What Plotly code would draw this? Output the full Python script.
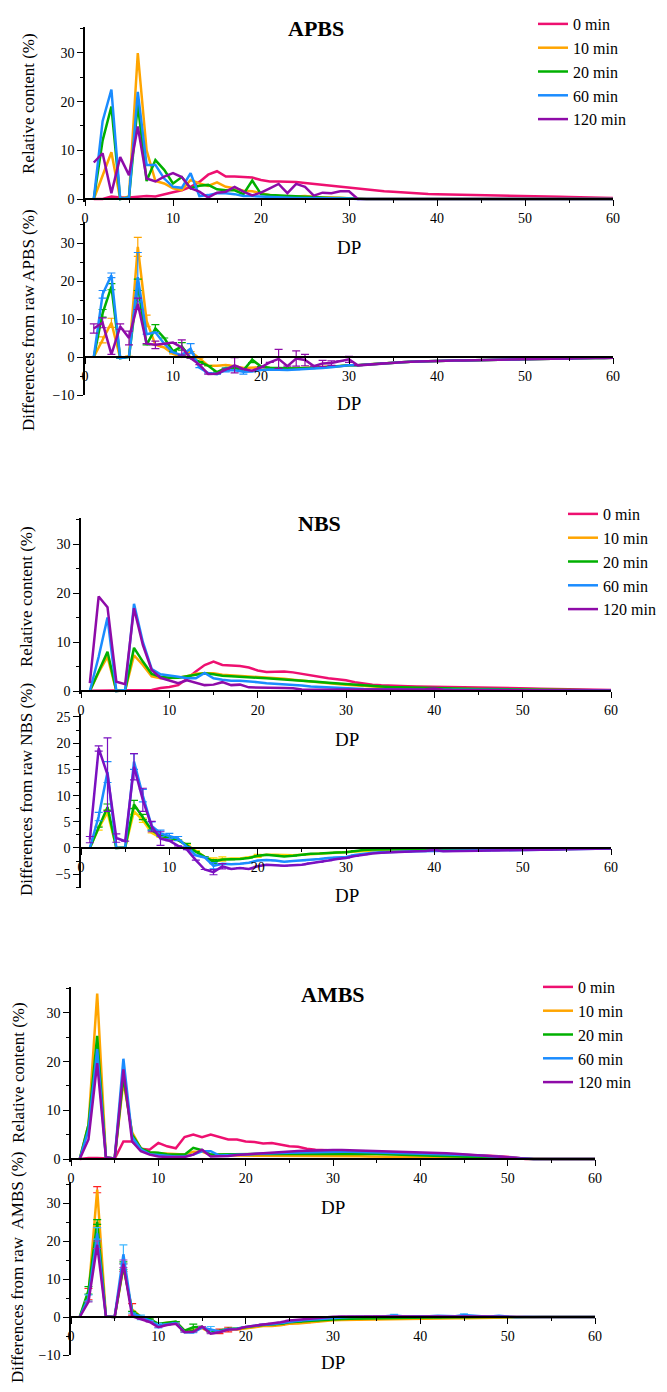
import plotly.graph_objects as go

W, H = 667, 1392
PAGE_OFFSET = 8  # the page body margin shifts the figure by this many pixels
FONT = "Liberation Serif, Times New Roman, Tinos, DejaVu Serif, serif"

dp = list(range(1, 61))
series_names = ["0 min", "10 min", "20 min", "60 min", "120 min"]
colors = ["#EE1070", "#FFA500", "#00B000", "#1A8CFF", "#8E0BA8"]
nbs_diff_colors = ["#FFD000", "#00B000", "#1A8CFF", "#7A10C0"]
ambs_err_colors = ["#FF2020", "#00B000", "#40B8FF", "#A040C0"]

# ---------------- APBS relative content ----------------
apbs_0 = [0, 0, 0.5, 0.3, 0.3, 0.5, 0.6, 0.5, 1.0, 1.4,
          1.8, 2.5, 3.5, 5.0, 5.7, 4.6, 4.6, 4.5, 4.4, 3.9,
          3.6, 3.6, 3.6, 3.5, 3.3, 3.1, 2.95, 2.8, 2.6, 2.4,
          2.2, 2.0, 1.8, 1.6, 1.5, 1.35, 1.25, 1.15, 1.05, 1.0,
          0.95, 0.92, 0.9, 0.87, 0.85, 0.8, 0.77, 0.73, 0.7, 0.65,
          0.6, 0.55, 0.5, 0.46, 0.42, 0.38, 0.33, 0.28, 0.24, 0.2]
apbs_10 = [0, 5.0, 9.6, 0, 0.5, 30.0, 10.0, 3.7, 3.2, 2.2,
           1.8, 3.9, 3.2, 2.7, 3.4, 2.5, 2.2, 1.7, 1.6, 1.2,
           0.8, 0.6, 0.5, 0.5, 0.6, 0.4, 0.3, 0.3, 0.2, 0.2,
           0, 0, 0, 0, 0, 0, 0, 0, 0, 0,
           0, 0, 0, 0, 0, 0, 0, 0, 0, 0,
           0, 0, 0, 0, 0, 0, 0, 0, 0, 0]
apbs_20 = [0, 12.0, 19.0, 0, 0.3, 19.5, 3.7, 8.0, 6.0, 3.2,
           4.5, 2.2, 2.7, 2.9, 2.0, 1.8, 1.8, 1.0, 3.8, 1.0,
           0.8, 0.7, 0.6, 0.5, 0.4, 0.3, 0.3, 0.2, 0.2, 0.1,
           0, 0, 0, 0, 0, 0, 0, 0, 0, 0,
           0, 0, 0, 0, 0, 0, 0, 0, 0, 0,
           0, 0, 0, 0, 0, 0, 0, 0, 0, 0]
apbs_60 = [0, 16.0, 22.5, 0, 0.3, 22.0, 7.0, 7.0, 4.2, 2.5,
           2.3, 5.3, 0.6, 0.8, 1.2, 1.2, 1.0, 0.6, 0.6, 0.5,
           0.4, 0.3, 0.3, 0.2, 0.2, 0.2, 0.1, 0.1, 0.1, 0.1,
           0, 0, 0, 0, 0, 0, 0, 0, 0, 0,
           0, 0, 0, 0, 0, 0, 0, 0, 0, 0,
           0, 0, 0, 0, 0, 0, 0, 0, 0, 0]
apbs_120 = [7.5, 9.4, 1.2, 8.6, 4.9, 14.9, 4.2, 3.6, 4.6, 5.3,
            4.5, 2.2, 1.5, 0.3, 1.3, 1.5, 2.5, 1.5, 0.75, 1.3,
            2.2, 3.1, 1.2, 3.1, 2.5, 0.7, 1.3, 1.2, 1.6, 1.6,
            0, 0, 0, 0, 0, 0, 0, 0, 0, 0,
            0, 0, 0, 0, 0, 0, 0, 0, 0, 0,
            0, 0, 0, 0, 0, 0, 0, 0, 0, 0]

# ---------------- APBS differences ----------------
apbs_tail = [-2.2, -2.0, -1.8, -1.6, -1.5, -1.35, -1.25, -1.15, -1.05, -1.0,
             -0.95, -0.92, -0.9, -0.87, -0.85, -0.8, -0.77, -0.73, -0.7, -0.65,
             -0.6, -0.55, -0.5, -0.46, -0.42, -0.38, -0.33, -0.28, -0.24, -0.2]
apbs_d10 = [0, 4.5, 9.0, -0.3, 0.2, 29.0, 9.5, 3.2, 2.5, 0.8,
            0.0, 1.4, -0.3, -2.3, -2.3, -2.1, -2.4, -2.9, -2.8, -2.7,
            -2.9, -3.1, -3.1, -3.0, -2.8, -2.8, -2.7, -2.6, -2.4, -2.2] + apbs_tail
apbs_d20 = [0, 11.5, 18.5, -0.3, 0, 19.0, 3.2, 7.5, 5.0, 1.5,
            2.8, -0.3, -1.2, -2.3, -4.0, -2.9, -2.9, -3.5, -0.7, -2.5,
            -2.8, -2.9, -3.0, -3.0, -2.9, -2.9, -2.7, -2.6, -2.4, -2.2] + apbs_tail
apbs_d60 = [0, 16.5, 21.5, -0.3, 0, 21.0, 6.0, 6.5, 3.5, 1.2,
            0.5, 2.2, -2.8, -4.2, -4.5, -3.4, -3.5, -3.9, -3.8, -3.4,
            -3.3, -3.4, -3.4, -3.3, -3.2, -3.0, -2.9, -2.7, -2.5, -2.2] + apbs_tail
apbs_d120 = [7.5, 9.0, 0.7, 8.0, 5.0, 14.0, 3.5, 3.2, 3.5, 3.8,
             2.5, -0.3, -2.0, -4.5, -4.4, -3.2, -2.2, -3.2, -3.6, -2.7,
             -1.4, -0.5, -2.4, -0.4, -0.8, -2.4, -1.7, -1.6, -1.0, -0.6] + apbs_tail
apbs_e10 = {2: 0.8, 3: 1.2, 6: 2.5, 7: 1.5}
apbs_e20 = {2: 1.0, 3: 0.8, 6: 1.5, 8: 1.0, 11: 1.0, 19: 0.8}
apbs_e60 = {2: 1.0, 3: 0.6, 6: 6.5, 12: 1.3, 16: 0.5, 18: 0.6}
apbs_e120 = {1: 1.2, 2: 1.3, 4: 0.7, 5: 1.8, 6: 1.5, 8: 1.0, 11: 2.0,
             17: 2.0, 22: 2.5, 24: 2.0, 25: 1.5, 27: 0.8, 28: 0.6, 30: 0.8}

# ---------------- NBS relative content ----------------
nbs_0 = [0.05, 0.05, 0.05, 0.05, 0.1, 0.1, 0.1, 0.2, 0.6, 0.8,
         1.2, 2.5, 4.0, 5.3, 6.0, 5.3, 5.2, 5.1, 4.8, 4.2,
         3.9, 3.9, 4.0, 3.8, 3.5, 3.1, 2.9, 2.6, 2.4, 2.2,
         1.8, 1.5, 1.3, 1.15, 1.05, 1.0, 0.95, 0.92, 0.9, 0.88,
         0.85, 0.82, 0.8, 0.77, 0.74, 0.7, 0.67, 0.63, 0.6, 0.56,
         0.52, 0.48, 0.44, 0.4, 0.36, 0.32, 0.28, 0.25, 0.22, 0.2]
nbs_10 = [0, 3.8, 7.0, 0, 0.1, 7.3, 5.3, 3.0, 2.6, 2.6,
          2.7, 3.0, 3.5, 3.6, 3.6, 3.3, 3.2, 3.1, 3.0, 2.8,
          2.7, 2.6, 2.5, 2.3, 2.1, 1.9, 1.75, 1.6, 1.45, 1.3,
          1.15, 1.0, 0.9, 0.8, 0.72, 0.65, 0.6, 0.55, 0.5, 0.48,
          0.45, 0.42, 0.4, 0.38, 0.36, 0.34, 0.32, 0.3, 0.28, 0.26,
          0.24, 0.22, 0.2, 0.19, 0.18, 0.17, 0.16, 0.15, 0.14, 0.13]
nbs_20 = [0, 4.0, 8.0, 0, 0.2, 8.8, 6.0, 3.5, 2.9, 2.7,
          2.7, 3.0, 3.3, 3.6, 3.4, 3.1, 3.0, 2.95, 2.9, 2.7,
          2.6, 2.5, 2.4, 2.3, 2.2, 2.0, 1.85, 1.7, 1.55, 1.4,
          1.25, 1.1, 1.0, 0.9, 0.8, 0.75, 0.7, 0.65, 0.6, 0.57,
          0.54, 0.5, 0.47, 0.44, 0.42, 0.4, 0.37, 0.35, 0.33, 0.31,
          0.29, 0.27, 0.25, 0.23, 0.21, 0.2, 0.18, 0.17, 0.16, 0.15]
nbs_60 = [0, 7.0, 15.0, 0, 0.2, 17.8, 10.0, 4.5, 3.4, 3.2,
          2.9, 2.6, 2.6, 3.7, 2.6, 2.3, 2.1, 2.1, 2.0, 1.8,
          1.6, 1.5, 1.4, 1.3, 1.1, 0.9, 0.8, 0.7, 0.6, 0.5,
          0.45, 0.4, 0.38, 0.35, 0.33, 0.31, 0.3, 0.29, 0.28, 0.27,
          0.26, 0.25, 0.24, 0.23, 0.22, 0.21, 0.2, 0.19, 0.18, 0.17,
          0.16, 0.15, 0.14, 0.13, 0.12, 0.11, 0.1, 0.1, 0.1, 0.1]
nbs_120 = [1.6, 19.3, 17.1, 1.9, 1.4, 16.9, 9.4, 4.3, 2.7, 2.2,
           1.6, 2.2, 1.7, 1.2, 1.3, 1.8, 1.2, 1.3, 0.75, 0.75,
           0.7, 0.65, 0.6, 0.55, 0.3, 0.25, 0.25, 0.25, 0.25, 0.25,
           0.25, 0.25, 0.25, 0.25, 0.25, 0.25, 0.25, 0.3, 0.35, 0.5,
           0.25, 0.2, 0.2, 0.2, 0.2, 0.2, 0.18, 0.16, 0.15, 0.14,
           0.13, 0.12, 0.12, 0.11, 0.11, 0.1, 0.1, 0.1, 0.1, 0.1]

# ---------------- NBS differences ----------------
nbs_d10 = [0, 3.8, 6.8, 0, 0.1, 7.0, 5.3, 2.9, 2.0, 1.8,
           1.5, 0.6, -0.5, -1.7, -2.3, -2.1, -2.0, -2.0, -1.8, -1.5,
           -1.3, -1.3, -1.4, -1.4, -1.3, -1.2, -1.1, -1.0, -0.9, -0.8,
           -0.6, -0.5, -0.45, -0.4, -0.38, -0.36, -0.35, -0.36, -0.38, -0.4,
           -0.4, -0.4, -0.4, -0.39, -0.38, -0.36, -0.35, -0.33, -0.32, -0.3,
           -0.28, -0.26, -0.24, -0.21, -0.18, -0.15, -0.12, -0.1, -0.08, -0.07]
nbs_d20 = [0, 4.0, 7.8, 0, 0.1, 8.3, 5.9, 3.4, 2.3, 1.9,
           1.5, 0.5, -0.7, -1.7, -2.6, -2.2, -2.2, -2.1, -1.9, -1.5,
           -1.3, -1.4, -1.6, -1.5, -1.3, -1.1, -1.05, -0.9, -0.85, -0.8,
           -0.55, -0.4, -0.3, -0.25, -0.25, -0.25, -0.25, -0.27, -0.3, -0.31,
           -0.31, -0.32, -0.33, -0.33, -0.32, -0.3, -0.3, -0.28, -0.27, -0.25,
           -0.23, -0.21, -0.19, -0.17, -0.15, -0.12, -0.1, -0.08, -0.06, -0.05]
nbs_d60 = [0, 6.0, 14.5, 0, 0.1, 16.5, 10.0, 4.2, 2.8, 2.3,
           1.8, 0.2, -1.4, -1.8, -3.4, -3.0, -3.1, -3.0, -2.8, -2.4,
           -2.3, -2.4, -2.6, -2.5, -2.4, -2.2, -2.1, -1.9, -1.8, -1.7,
           -1.35, -1.1, -0.92, -0.8, -0.72, -0.69, -0.65, -0.63, -0.62, -0.61,
           -0.59, -0.57, -0.56, -0.54, -0.52, -0.49, -0.47, -0.44, -0.42, -0.39,
           -0.36, -0.33, -0.3, -0.27, -0.24, -0.21, -0.18, -0.15, -0.12, -0.1]
nbs_d120 = [1.6, 19.0, 14.0, 1.9, 1.3, 15.5, 9.2, 4.1, 1.8, 1.4,
            0.4, -0.3, -2.3, -4.1, -4.6, -3.5, -4.0, -3.8, -4.0, -3.5,
            -3.2, -3.3, -3.4, -3.3, -3.2, -2.9, -2.7, -2.4, -2.1, -1.9,
            -1.55, -1.25, -1.05, -0.9, -0.8, -0.75, -0.7, -0.62, -0.55, -0.4,
            -0.6, -0.62, -0.6, -0.57, -0.54, -0.5, -0.49, -0.47, -0.45, -0.42,
            -0.39, -0.36, -0.32, -0.29, -0.25, -0.22, -0.18, -0.15, -0.12, -0.1]
nbs_e10 = {2: 0.4, 3: 0.5, 6: 0.6, 7: 0.4, 15: 0.4, 16: 0.4, 20: 0.3}
nbs_e20 = {3: 0.6, 6: 0.8, 7: 0.5, 12: 0.4, 15: 0.4}
nbs_e60 = {2: 0.8, 3: 2.0, 6: 1.5, 7: 1.2, 8: 0.8, 9: 0.6, 10: 0.5, 11: 0.4, 15: 0.6}
nbs_e120 = {1: 0.6, 2: 0.5, 3: 7.0, 4: 0.8, 6: 2.5, 7: 2.2, 8: 1.0, 9: 1.3, 15: 0.5, 16: 0.5}

# ---------------- AMBS relative content ----------------
ambs_0 = [0, 0.2, 0.2, 0.1, 0.05, 3.6, 3.6, 2.1, 1.9, 3.3,
          2.6, 2.2, 4.5, 5.0, 4.5, 5.0, 4.5, 4.0, 4.0, 3.6,
          3.5, 3.2, 3.3, 2.9, 2.6, 2.5, 2.1, 1.9, 1.8, 1.7,
          1.65, 1.6, 1.55, 1.5, 1.45, 1.4, 1.35, 1.3, 1.25, 1.2,
          1.15, 1.1, 1.05, 1.0, 0.95, 0.85, 0.75, 0.65, 0.55, 0.45,
          0.3, 0, 0, 0, 0, 0, 0, 0, 0, 0]
ambs_10 = [0, 7.0, 34.0, 0.3, 0.1, 16.0, 5.5, 2.2, 1.3, 1.2,
           1.0, 0.9, 0.9, 1.5, 1.5, 0.8, 0.7, 0.7, 0.7, 0.7,
           0.7, 0.7, 0.7, 0.7, 0.7, 0.65, 0.65, 0.6, 0.6, 0.6,
           0.6, 0.55, 0.55, 0.5, 0.5, 0.5, 0.45, 0.4, 0.4, 0.35,
           0.35, 0.3, 0.3, 0.3, 0.25, 0.25, 0.2, 0.2, 0.15, 0.1,
           0.05, 0, 0, 0, 0, 0, 0, 0, 0, 0]
ambs_20 = [0, 7.0, 25.3, 0.3, 0.1, 17.0, 5.0, 2.2, 1.4, 1.3,
           1.0, 0.9, 0.9, 2.3, 1.8, 0.9, 0.9, 0.9, 1.0, 1.0,
           1.0, 1.05, 1.1, 1.1, 1.15, 1.15, 1.2, 1.2, 1.2, 1.2,
           1.2, 1.15, 1.1, 1.1, 1.05, 1.0, 0.95, 0.9, 0.85, 0.8,
           0.75, 0.7, 0.65, 0.6, 0.55, 0.5, 0.45, 0.4, 0.3, 0.2,
           0.1, 0, 0, 0, 0, 0, 0, 0, 0, 0]
ambs_60 = [0, 6.0, 22.6, 0.3, 0.1, 20.6, 4.5, 2.0, 1.0, 0.8,
           0.6, 0.5, 0.5, 0.9, 1.6, 1.6, 0.7, 0.8, 0.9, 1.0,
           1.05, 1.1, 1.2, 1.25, 1.3, 1.35, 1.4, 1.45, 1.5, 1.5,
           1.5, 1.5, 1.45, 1.45, 1.4, 1.4, 1.35, 1.3, 1.25, 1.2,
           1.15, 1.1, 1.0, 0.95, 0.85, 0.75, 0.65, 0.55, 0.45, 0.3,
           0.15, 0, 0, 0, 0, 0, 0, 0, 0, 0]
ambs_120 = [0, 4.0, 19.7, 0.3, 0.1, 18.4, 3.6, 1.6, 0.9, 0.5,
            0.4, 0.4, 0.4, 0.9, 1.9, 0.5, 0.5, 0.6, 0.8, 1.0,
            1.1, 1.2, 1.35, 1.5, 1.55, 1.65, 1.7, 1.8, 1.85, 1.85,
            1.85, 1.8, 1.75, 1.75, 1.7, 1.65, 1.6, 1.55, 1.5, 1.4,
            1.35, 1.3, 1.2, 1.1, 1.0, 0.9, 0.8, 0.7, 0.55, 0.35,
            0.15, 0, 0, 0, 0, 0, 0, 0, 0, 0]

# ---------------- AMBS differences ----------------
ambs_d10 = [0, 6.0, 33.5, 0.1, 0, 13.0, 2.0, 0.1, -0.6, -1.9,
            -1.5, -1.3, -3.6, -3.5, -2.9, -4.1, -3.8, -3.3, -3.3, -2.9,
            -2.7, -2.4, -2.4, -2.2, -1.8, -1.7, -1.5, -1.2, -1.0, -0.85,
            -0.8, -0.75, -0.7, -0.65, -0.6, -0.55, -0.5, -0.45, -0.4, -0.4,
            -0.35, -0.35, -0.3, -0.3, -0.3, -0.25, -0.2, -0.2, -0.15, -0.1,
            -0.05, 0, 0, 0, 0, 0, 0, 0, 0, 0]
ambs_d20 = [0, 7.0, 25.0, 0.1, 0, 13.5, 1.5, 0.1, -0.5, -1.8,
            -1.5, -1.2, -3.6, -2.7, -2.6, -4.0, -3.6, -3.1, -3.0, -2.6,
            -2.4, -2.1, -2.0, -1.8, -1.4, -1.3, -1.1, -0.95, -0.8, -0.6,
            -0.5, -0.45, -0.4, -0.35, -0.3, -0.25, -0.2, -0.2, -0.2, -0.2,
            -0.15, -0.15, -0.1, -0.1, -0.1, -0.05, -0.05, 0, 0, 0,
            0, 0, 0, 0, 0, 0, 0, 0, 0, 0]
ambs_d60 = [0, 5.0, 22.0, 0.1, 0, 16.5, 1.0, -0.1, -0.9, -2.3,
            -1.9, -1.6, -4.0, -4.1, -2.8, -3.3, -3.8, -3.2, -3.1, -2.6,
            -2.3, -2.0, -1.9, -1.6, -1.2, -1.0, -0.8, -0.6, -0.4, -0.25,
            -0.1, 0.0, 0.0, 0.1, 0.1, 0.2, 0.4, 0.2, 0.15, 0.15,
            0.2, 0.3, 0.2, 0.2, 0.5, 0.3, 0.2, 0.1, 0.3, 0.1,
            -0.05, 0, 0, 0, 0, 0, 0, 0, 0, 0]
ambs_d120 = [0, 4.0, 19.0, 0.1, 0, 14.0, 0.2, -0.5, -1.3, -2.7,
             -2.1, -1.8, -4.0, -3.9, -2.5, -4.4, -4.0, -3.3, -3.2, -2.6,
             -2.3, -1.9, -1.7, -1.4, -0.9, -0.7, -0.45, -0.2, -0.05, 0.05,
             0.15, 0.15, 0.2, 0.25, 0.3, 0.25, 0.3, 0.3, 0.25, 0.2,
             0.25, 0.3, 0.2, 0.15, 0.25, 0.2, 0.15, 0.1, 0.05, 0.05,
             0, 0, 0, 0, 0, 0, 0, 0, 0, 0]
ambs_e10 = {2: 1.5, 3: 0.8, 6: 1.0, 7: 1.5, 17: 0.6, 18: 0.6}
ambs_e20 = {2: 1.0, 3: 0.6, 6: 1.0, 14: 0.8}
ambs_e60 = {2: 0.8, 3: 1.5, 6: 2.5, 8: 0.6, 10: 0.6, 16: 0.8, 37: 0.3, 45: 0.3}
ambs_e120 = {3: 1.0, 6: 1.0}

# ---------------- layout geometry (screen pixels in the reference) ----------------
# (x_left, x_right, y_zero_px, px_per_unit, ymin, ymax, dtick, minor)
panels = [
    (85, 613, 199, 4.867, -0.6, 35.3, 10, 5),
    (85, 613, 357, 3.80, -10, 35.5, 10, 5),
    (81, 611, 691, 4.90, -0.6, 35.3, 10, 5),
    (81, 611, 848, 5.24, -7.6, 25.6, 5, 2.5),
    (71, 595, 1159, 4.867, -0.6, 35.3, 10, 5),
    (71, 595, 1317, 3.80, -10, 35.5, 10, 5),
]


def px_x(p):
    return (p - PAGE_OFFSET) / W


def px_y(p):
    return 1 - (p - PAGE_OFFSET) / H


fig = go.Figure()

tick_font = dict(family=FONT, size=14, color="black")
layout_axes = {}
for i, (xl, xr, y0, ppu, ymin, ymax, dt, mn) in enumerate(panels):
    n = i + 1
    xname = "xaxis" if n == 1 else f"xaxis{n}"
    yname = "yaxis" if n == 1 else f"yaxis{n}"
    xid = "x" if n == 1 else f"x{n}"
    bottom = y0 - ymin * ppu
    top = y0 - ymax * ppu
    layout_axes[xname] = dict(
        domain=[px_x(xl), px_x(xr)], range=[0, 60], anchor="free",
        position=px_y(y0), dtick=10, tick0=0, ticks="outside", ticklen=6,
        tickwidth=1.4, tickcolor="black", showline=True, linecolor="black",
        linewidth=1.5, showgrid=False, zeroline=False, tickfont=tick_font,
        automargin=False,
        minor=dict(ticks="outside", ticklen=3.5, dtick=5, tick0=0,
                   tickwidth=1.2, tickcolor="black", showgrid=False),
    )
    layout_axes[yname] = dict(
        domain=[px_y(bottom), px_y(top)], range=[ymin, ymax], anchor=xid,
        dtick=dt, tick0=0, ticks="outside", ticklen=6, tickwidth=1.4,
        tickcolor="black", showline=True, linecolor="black", linewidth=1.5,
        showgrid=False, zeroline=False, tickfont=tick_font, automargin=False,
        minor=dict(ticks="outside", ticklen=3.5, dtick=mn, tick0=0,
                   tickwidth=1.2, tickcolor="black", showgrid=False),
    )


def err_array(d):
    return [d.get(k) for k in dp]


def add_top(n, data, legend):
    xid = "x" if n == 1 else f"x{n}"
    yid = "y" if n == 1 else f"y{n}"
    for name, vals, c in zip(series_names, data, colors):
        fig.add_trace(go.Scatter(
            x=dp, y=vals, mode="lines", name=name, xaxis=xid, yaxis=yid,
            line=dict(color=c, width=2.5), legend=legend, showlegend=True))


def add_diff(n, data, errs, line_colors, err_colors):
    xid = f"x{n}"
    yid = f"y{n}"
    for name, vals, e, c, ec in zip(series_names[1:], data, errs, line_colors, err_colors):
        fig.add_trace(go.Scatter(
            x=dp, y=vals, mode="lines", name=name, xaxis=xid, yaxis=yid,
            line=dict(color=c, width=2.5), showlegend=False,
            error_y=dict(type="data", array=err_array(e), visible=True,
                         color=ec, thickness=1.2, width=4)))


add_top(1, [apbs_0, apbs_10, apbs_20, apbs_60, apbs_120], "legend")
add_diff(2, [apbs_d10, apbs_d20, apbs_d60, apbs_d120],
         [apbs_e10, apbs_e20, apbs_e60, apbs_e120], colors[1:], colors[1:])
add_top(3, [nbs_0, nbs_10, nbs_20, nbs_60, nbs_120], "legend2")
add_diff(4, [nbs_d10, nbs_d20, nbs_d60, nbs_d120],
         [nbs_e10, nbs_e20, nbs_e60, nbs_e120], nbs_diff_colors, nbs_diff_colors)
add_top(5, [ambs_0, ambs_10, ambs_20, ambs_60, ambs_120], "legend3")
add_diff(6, [ambs_d10, ambs_d20, ambs_d60, ambs_d120],
         [ambs_e10, ambs_e20, ambs_e60, ambs_e120], colors[1:], ambs_err_colors)

leg_font = dict(family=FONT, size=16, color="black")


def legend_at(text_left, first_row_center):
    return dict(x=px_x(text_left - 40), y=px_y(first_row_center - 15),
                xanchor="left", yanchor="top", font=leg_font,
                bgcolor="rgba(0,0,0,0)", borderwidth=0, tracegroupgap=0,
                itemwidth=30)


annotations = []


def ann(text, x, y, size, bold=False, angle=0):
    annotations.append(dict(
        text=f"<b>{text}</b>" if bold else text, x=px_x(x), y=px_y(y),
        xref="paper", yref="paper", showarrow=False, textangle=angle,
        xanchor="center", yanchor="middle",
        font=dict(family=FONT, size=size, color="black")))


ann("APBS", 316, 28, 22, bold=True)
ann("NBS", 319, 523, 22, bold=True)
ann("AMBS", 333, 994, 22, bold=True)
ann("Relative content (%)", 28, 104, 17, angle=-90)
ann("Differences from raw APBS (%)", 28, 320, 17, angle=-90)
ann("Relative content (%)", 26, 597, 17, angle=-90)
ann("Differences from raw NBS (%)", 26, 790, 17, angle=-90)
ann("Relative content (%)", 18, 1073, 17, angle=-90)
ann("Differences from raw\u00a0 AMBS (%)", 17, 1268, 17, angle=-90)
ann("DP", 349, 247, 19)
ann("DP", 349, 403, 19)
ann("DP", 347, 739, 19)
ann("DP", 347, 895, 19)
ann("DP", 333, 1207, 19)
ann("DP", 333, 1362, 19)

fig.update_layout(
    width=W, height=H,
    margin=dict(l=0, r=0, t=0, b=0, pad=0, autoexpand=False),
    paper_bgcolor="white", plot_bgcolor="white",
    font=dict(family=FONT, color="black"),
    legend=legend_at(573, 22),
    legend2=legend_at(603, 512),
    legend3=legend_at(578, 985),
    annotations=annotations,
    **layout_axes,
)

fig.write_html("out.html")
